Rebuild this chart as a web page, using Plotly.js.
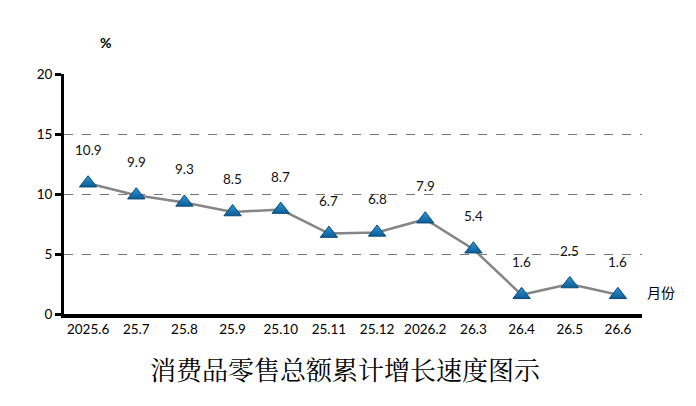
<!DOCTYPE html>
<html>
<head>
<meta charset="utf-8">
<script src="https://cdn.plot.ly/plotly-3.0.1.min.js"></script>
<style>
  body { margin: 0; background: white; }
  #chart { width: 696px; height: 406px; }
</style>
</head>
<body>
<div id="chart"></div>
<script>
// monthly labels and cumulative growth (%)
var months = ['2025.6', '25.7', '25.8', '25.9', '25.10', '25.11', '25.12', '2026.2', '26.3', '26.4', '26.5', '26.6'];
var growth = [10.9, 9.9, 9.3, 8.5, 8.7, 6.7, 6.8, 7.9, 5.4, 1.6, 2.5, 1.6];
var yTicks = [0, 5, 10, 15, 20];

var font = 'Lato, Open Sans, Noto Sans CJK SC, sans-serif';

var data = [{
  type: 'scatter',
  mode: 'lines+markers',
  x: months,
  y: growth,
  line: { color: '#858585', width: 2.5 },
  marker: {
    symbol: 'triangle-up',
    size: 15,
    color: '#2b97d8',
    gradient: { type: 'vertical', color: '#0b5d96' },
    line: { color: '#0a4a78', width: 1 }
  },
  hoverinfo: 'x+y',
  cliponaxis: false
}];

// value labels sit well above each point; category axis needs the index here
var notes = [];
for (var i = 0; i < months.length; i++) {
  notes.push({
    x: i, y: growth[i],
    text: String(growth[i]),
    showarrow: false,
    yshift: 33,
    font: { size: 13.5, color: '#111' }
  });
}

notes.push({
  xref: 'paper', yref: 'paper', x: 0.071, y: 1.133,
  text: '<b>%</b>', showarrow: false, xanchor: 'center', yanchor: 'middle',
  font: { size: 14, color: '#000' }
});
notes.push({
  xref: 'paper', yref: 'y', x: 1.005, y: 1.8,
  text: '月份', showarrow: false, xanchor: 'left',
  font: { size: 14, color: '#000', family: 'Noto Sans CJK SC, sans-serif' }
});
notes.push({
  xref: 'paper', yref: 'paper', x: 0.487, y: -0.225,
  text: '消费品零售总额累计增长速度图示', showarrow: false,
  xanchor: 'center', yanchor: 'middle',
  font: { size: 26, color: '#000', family: 'Noto Serif CJK SC, Noto Sans CJK SC, serif' }
});

var layout = {
  width: 696,
  height: 406,
  margin: { l: 64, r: 54, t: 74, b: 92 },
  paper_bgcolor: 'white',
  plot_bgcolor: 'white',
  showlegend: false,
  font: { family: font, size: 13, color: '#000' },
  xaxis: {
    type: 'category',
    range: [-0.5, 11.5],
    showline: true, linecolor: '#000', linewidth: 4,
    showgrid: false,
    ticks: '',
    tickfont: { size: 13.5 },
    fixedrange: true
  },
  yaxis: {
    range: [0, 20],
    tickvals: yTicks,
    showline: true, linecolor: '#000', linewidth: 3,
    ticks: 'outside', ticklen: 6, tickwidth: 3, tickcolor: '#000',
    showgrid: true, gridcolor: '#777', griddash: 'dash', gridwidth: 1,
    zeroline: false,
    tickfont: { size: 13.5 },
    fixedrange: true
  },
  annotations: notes
};

Plotly.newPlot('chart', data, layout, { displayModeBar: false });
</script>
</body>
</html>
